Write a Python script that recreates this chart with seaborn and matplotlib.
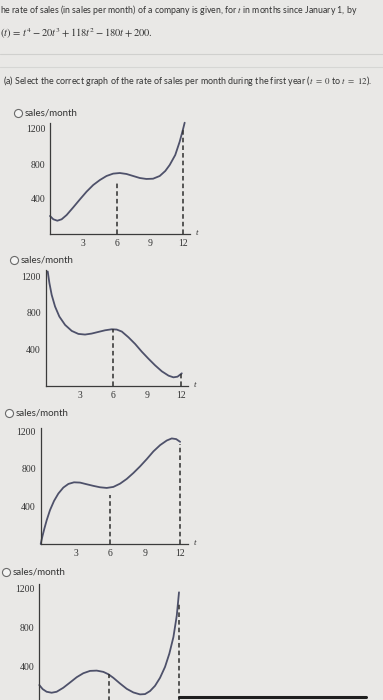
import matplotlib
matplotlib.use("Agg")
import matplotlib.pyplot as plt
import seaborn as sns
from matplotlib.lines import Line2D

t_g1 = [0, 0.3, 0.66, 1.05, 1.5, 2.1, 2.7, 3.3, 3.9, 4.5, 5.1, 5.7, 6.3, 6.9,
        7.5, 8.1, 8.7, 9.3, 9.9, 10.4, 10.8, 11.3, 11.7, 12.0, 12.15]
s_g1 = [206, 168, 152, 168, 217, 305, 396, 484, 560, 617, 663, 690, 697, 686,
        663, 640, 629, 632, 663, 720, 789, 903, 1055, 1196, 1272]

t_g2 = [0.18, 0.33, 0.53, 0.83, 1.21, 1.72, 2.31, 2.9, 3.49, 4.08, 4.67, 5.27,
        5.86, 6.3, 6.75, 7.34, 7.93, 8.52, 9.11, 9.7, 10.3, 10.9, 11.33, 11.69,
        11.92, 12.07]
s_g2 = [1255, 1127, 998, 870, 760, 668, 602, 569, 562, 573, 591, 609,
        620, 617, 595, 532, 459, 374, 297, 224, 158, 110, 92, 99,
        121, 136]

t_g3 = [0, 0.14, 0.32, 0.52, 0.8, 1.15, 1.52, 1.95, 2.39, 2.87, 3.39, 3.97,
        4.54, 5.11, 5.69, 6.26, 6.84, 7.41, 7.99, 8.56, 9.14, 9.71, 10.29,
        10.86, 11.29, 11.67, 12.01]
s_g3 = [0, 78, 166, 255, 361, 460, 538, 602, 641, 658, 655, 637,
        620, 605, 598, 609, 644, 694, 758, 828, 906, 988, 1055,
        1104, 1126, 1119, 1090]

t_g4 = [0, 0.29, 0.63, 1.06, 1.49, 2.06, 2.64, 3.21, 3.78, 4.36, 4.93, 5.5,
        5.93, 6.36, 6.93, 7.51, 8.08, 8.65, 9.08, 9.51, 9.94, 10.37, 10.8,
        11.17, 11.52, 11.81, 12.0]
s_g4 = [212, 170, 143, 133, 143, 184, 238, 292, 333, 357, 360, 347,
        323, 286, 228, 173, 136, 116, 119, 150, 204, 286, 398,
        534, 704, 925, 1163]

# Lignes pointillées verticales (t = 6 et t = 12)
dash_t = [6, 12]
dash_g1 = [606, 1200]
dash_g2 = [620, 130]
dash_g3 = [520, 1069]
dash_g4 = [330, 1040]

yticks = [200, 400, 600, 800, 1000, 1200]
ytick_labels = ["", "400", "", "800", "", "1200"]
xticks = [3, 6, 9, 12]
xtick_labels = ["3", "6", "9", "12"]

bg = "#e9e8e6"
txt = "#333333"
axis_col = "#3b3b3b"
curve_col = "#4e516a"

sns.set_theme(style="white")
plt.rcParams['font.family'] = ['Lato', 'DejaVu Sans']
plt.rcParams['mathtext.fontset'] = 'stix'

W, H = 383, 700
fig = plt.figure(figsize=(W / 100, H / 100), dpi=100)
fig.patch.set_facecolor(bg)


def make_axes(x0, x12, y0, y400, xlim=(-0.6, 14.5), ylim=(-160, 1400)):
    # place les axes pour que t=0, t=12, 0 et 400 tombent aux bons pixels
    sx = (x12 - x0) / 12
    sy = (y0 - y400) / 400
    left = x0 + xlim[0] * sx
    width = (xlim[1] - xlim[0]) * sx
    bottom_px = y0 - ylim[0] * sy
    height = (ylim[1] - ylim[0]) * sy
    ax = fig.add_axes([left / W, (H - bottom_px) / H, width / W, height / H])
    ax.set_xlim(*xlim)
    ax.set_ylim(*ylim)
    ax.patch.set_alpha(0)
    return ax


def draw_graph(ax, t, s, dash_tops, ytop, xend, show_x=True):
    sns.lineplot(x=t, y=s, ax=ax, color=curve_col, linewidth=1.3, estimator=None)
    ax.vlines(dash_t, 0, dash_tops, colors="#2e2e2e", linewidth=1.1,
              linestyles=(0, (3, 2)))
    for side in ["top", "right"]:
        ax.spines[side].set_visible(False)
    for side in ["left", "bottom"]:
        ax.spines[side].set_position(("data", 0))
        ax.spines[side].set_color(axis_col)
        ax.spines[side].set_linewidth(0.9)
    ax.spines["left"].set_bounds(0, ytop)
    ax.spines["bottom"].set_bounds(0, xend)
    ax.set_yticks(yticks)
    ax.set_yticklabels(ytick_labels, fontfamily="Liberation Serif", fontsize=7, color=txt)
    ax.set_xticks(xticks)
    ax.set_xticklabels(xtick_labels if show_x else [], fontfamily="Liberation Serif",
                       fontsize=7, color=txt)
    ax.tick_params(direction="in", length=2.5, width=0.7, colors=axis_col,
                   labelcolor=txt, pad=3.5)
    ax.set_xlabel("")
    ax.set_ylabel("")
    if show_x:
        ax.annotate("t", xy=(xend, 0), xytext=(4, 0.5), textcoords="offset points",
                    fontfamily="Liberation Serif", fontstyle="italic", fontsize=6.5,
                    color=txt, va="center", ha="left")


ax1 = make_axes(50, 183, 234, 199)
draw_graph(ax1, t_g1, s_g1, dash_g1, 1268, 12.6)

ax2 = make_axes(45.7, 181, 385.7, 349.3)
draw_graph(ax2, t_g2, s_g2, dash_g2, 1266, 12.65)

ax3 = make_axes(40.7, 180, 544, 506.5)
draw_graph(ax3, t_g3, s_g3, dash_g3, 1240, 12.7)

# le dernier graphique est coupé en bas de la capture
ax4 = make_axes(39.3, 179, 705.7, 666.7)
draw_graph(ax4, t_g4, s_g4, dash_g4, 1250, 12.7, show_x=False)


def fy(py):
    return 1 - py / H


# Énoncé
fig.text(0, fy(10), "he rate of sales (in sales per month) of a company is given, for $t$ in months since January 1, by",
         fontsize=6.3, color=txt, va="center", ha="left")
fig.text(0, fy(34), r"$(t)\,=\,t^4 - 20t^3 + 118t^2 - 180t + 200.$",
         fontsize=7.6, color=txt, va="center", ha="left")
fig.add_artist(Line2D([0, 1], [fy(54), fy(54)], color="#d0d0ce", lw=0.8, transform=fig.transFigure))
fig.add_artist(Line2D([0, 1], [fy(67), fy(67)], color="#d6d6d4", lw=0.8, transform=fig.transFigure))
fig.text(3 / W, fy(81), "(a) Select the correct graph of the rate of sales per month during the first year ($t\\ =\\ 0$ to $t\\ =\\ 12$).",
         fontsize=6.4, color=txt, va="center", ha="left")

# Boutons radio + étiquette de l'axe vertical
for cx, cy in [(18.3, 113), (14.3, 260), (9.3, 413), (6, 572)]:
    fig.add_artist(Line2D([cx / W], [fy(cy)], marker="o", markersize=5.8,
                          markerfacecolor="#f4f4f3", markeredgecolor="#6a6a6a",
                          markeredgewidth=0.8, transform=fig.transFigure))
    fig.text((cx + 6.5) / W, fy(cy), "sales/month", fontsize=7, color=txt,
             va="center", ha="left")

# bord sombre en bas de la capture
fig.add_artist(Line2D([179 / W, 366 / W], [fy(697), fy(697)], color="#1e1e1e",
                      lw=2.2, transform=fig.transFigure))

fig.savefig("out.png", dpi=100, facecolor=bg)
